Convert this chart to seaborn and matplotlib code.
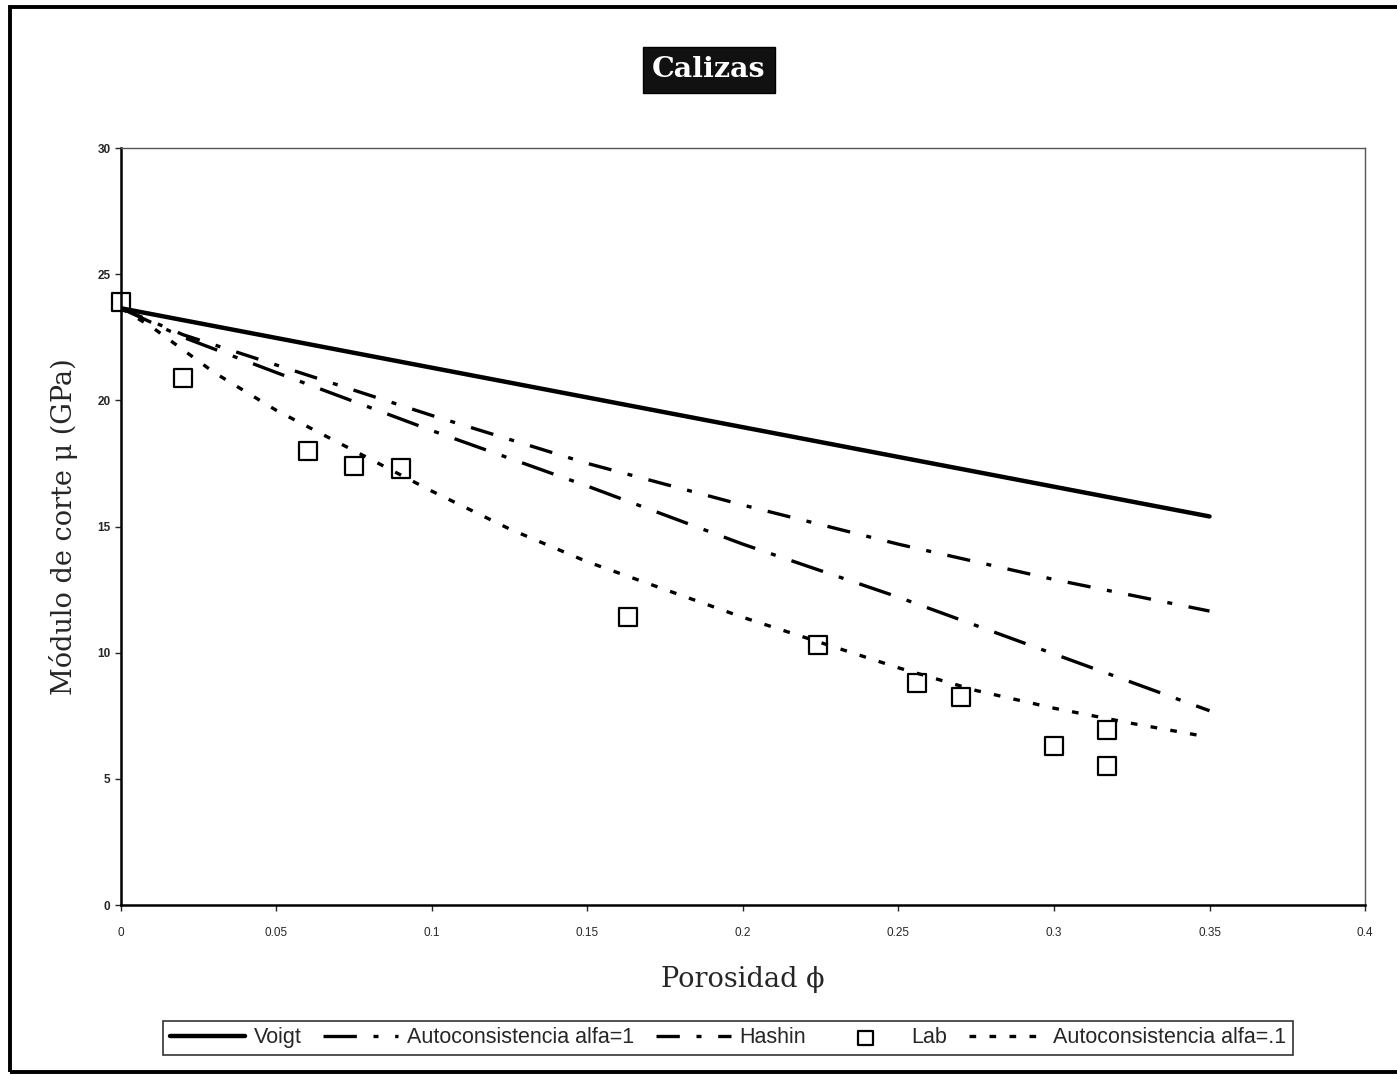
import matplotlib
matplotlib.use("Agg")
import matplotlib.pyplot as plt
from matplotlib import font_manager
import seaborn as sns
from matplotlib.patches import Rectangle

# Values (Calizas, shear modulus vs porosity)
voigt_x = [0.0, 0.35]
voigt_y = [23.65, 15.4]

hashin_x = [0.0, 0.02, 0.05, 0.10, 0.15, 0.20, 0.25, 0.30, 0.35]
hashin_y = [23.65, 22.6, 21.4, 19.4, 17.5, 15.85, 14.3, 12.9, 11.65]

auto1_x = [0.0, 0.02, 0.05, 0.10, 0.15, 0.20, 0.25, 0.30, 0.35]
auto1_y = [23.65, 22.5, 21.1, 18.8, 16.6, 14.3, 12.2, 9.95, 7.7]

auto01_x = [0.0, 0.01, 0.02, 0.03, 0.05, 0.075, 0.0875, 0.10, 0.125, 0.15,
            0.175, 0.20, 0.225, 0.25, 0.275, 0.30, 0.325, 0.35]
auto01_y = [23.65, 22.9, 22.0, 21.1, 19.6, 18.0, 17.2, 16.4, 14.9, 13.6,
            12.5, 11.4, 10.4, 9.4, 8.5, 7.8, 7.2, 6.65]

lab_x = [0.0, 0.02, 0.06, 0.075, 0.09, 0.163, 0.224, 0.256, 0.27, 0.30, 0.317, 0.317]
lab_y = [23.9, 20.9, 18.0, 17.4, 17.3, 11.4, 10.3, 8.8, 8.25, 6.3, 6.95, 5.5]

x_ticks = [0, 0.05, 0.1, 0.15, 0.2, 0.25, 0.3, 0.35, 0.4]
x_tick_labels = ["0", "0.05", "0.1", "0.15", "0.2", "0.25", "0.3", "0.35", "0.4"]
y_ticks = [0, 5, 10, 15, 20, 25, 30]

sns.set_style("ticks")
plt.rcParams["font.family"] = ["Liberation Sans", "DejaVu Sans"]

# narrow sans for the legend if it is there
names = {f.name for f in font_manager.fontManager.ttflist}
if "Liberation Sans Narrow" in names:
    leg_family, leg_size = "Liberation Sans Narrow", 19
else:
    leg_family, leg_size = "Liberation Sans", 15.5

fig = plt.figure(figsize=(13.97, 10.75), dpi=100)
ax = fig.add_axes([0.0866, 0.1581, 0.8905, 0.7042])

lw = 2.4
sns.lineplot(x=voigt_x, y=voigt_y, ax=ax, color="black", linewidth=3.2,
             label="Voigt")
sns.lineplot(x=auto1_x, y=auto1_y, ax=ax, color="black", linewidth=lw,
             label="Autoconsistencia alfa=1")
ax.lines[-1].set_dashes((10, 5, 1.5, 5))
sns.lineplot(x=hashin_x, y=hashin_y, ax=ax, color="black", linewidth=lw,
             label="Hashin")
ax.lines[-1].set_dashes((7, 5, 1.5, 5))
sns.scatterplot(x=lab_x, y=lab_y, ax=ax, marker="s", s=170,
                facecolor="none", edgecolor="black", linewidth=1.6,
                label="Lab", zorder=5, clip_on=False)
sns.lineplot(x=auto01_x, y=auto01_y, ax=ax, color="black", linewidth=lw,
             label="Autoconsistencia alfa=.1")
ax.lines[-1].set_dashes((2, 4))

ax.set_xlim(0, 0.4)
ax.set_ylim(0, 30)
ax.set_xticks(x_ticks)
ax.set_xticklabels(x_tick_labels)
ax.set_yticks(y_ticks)
ax.tick_params(labelsize=8.5, length=4, width=1, direction="out")
ax.tick_params(axis="x", pad=12)
for t in ax.get_yticklabels():
    t.set_fontweight("bold")

for s in ["left", "bottom"]:
    ax.spines[s].set_linewidth(1.8)
    ax.spines[s].set_color("black")
for s in ["top", "right"]:
    ax.spines[s].set_visible(True)
    ax.spines[s].set_linewidth(1.0)
    ax.spines[s].set_color("#555555")

ax.set_xlabel("Porosidad \u03d5", family=["DejaVu Serif"], fontsize=19.5,
              labelpad=19)
ax.set_ylabel("M\u00f3dulo de corte \u03bc (GPa)", family=["DejaVu Serif"],
              fontsize=19.5, labelpad=14)

fig.text(0.5075, 0.935, "Calizas", ha="center", va="center", color="white",
         fontsize=20.5, fontweight="bold", family=["DejaVu Serif"],
         bbox=dict(facecolor="#111111", edgecolor="black", pad=7))

ax.legend(loc="center", bbox_to_anchor=(0.521, 0.0345),
          bbox_transform=fig.transFigure, ncol=5,
          prop={"family": leg_family, "size": leg_size},
          handlelength=3.5, handletextpad=0.4, columnspacing=1.0,
          frameon=True, fancybox=False, edgecolor="black", borderpad=0.3,
          markerscale=0.8)
leg = ax.get_legend()
leg.get_frame().set_linewidth(1.2)

fig.patches.append(Rectangle((0.0075, 0.0028), 1.1, 0.991,
                             transform=fig.transFigure, fill=False,
                             edgecolor="black", linewidth=2.8))

fig.savefig("out.png", dpi=100, facecolor="white")
